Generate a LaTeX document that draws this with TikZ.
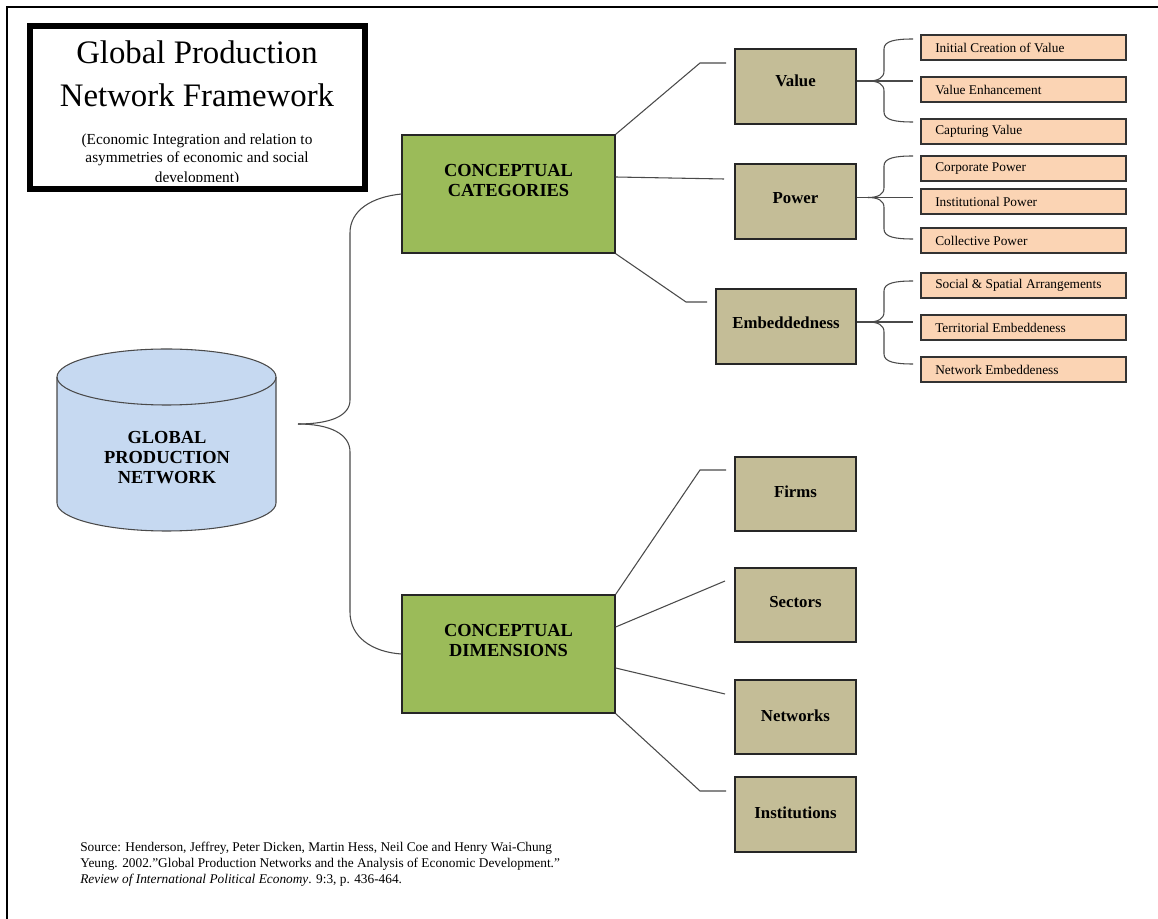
\documentclass[tikz,border=0pt]{standalone}
\usepackage{fontspec}
\setmainfont{Liberation Serif}
\usetikzlibrary{fit,shadows}
\definecolor{gpgreen}{HTML}{9BBB59}
\definecolor{gptan}{HTML}{C4BD97}
\definecolor{gporange}{HTML}{FBD4B4}
\definecolor{gpblue}{HTML}{C6D9F1}
\definecolor{gpline}{HTML}{4A4A4A}
\tikzset{
  conn/.style={draw=gpline, line width=0.8pt},
  greenbox/.style={draw=black!85, line width=1pt, fill=gpgreen, inner sep=0pt},
  tanbox/.style={draw=black!85, line width=1pt, fill=gptan, inner sep=0pt},
  orangebox/.style={draw=black!80, line width=0.9pt, fill=gporange, inner sep=0pt,
    drop shadow={shadow xshift=0.9pt, shadow yshift=-0.9pt, fill=black!70, opacity=0.8}},
  bigtext/.style={font=\fontsize{13.8}{14.6}\selectfont\bfseries, align=center, inner sep=0pt},
  tantext/.style={font=\fontsize{12.6}{14}\selectfont\bfseries, inner sep=0pt},
  otext/.style={font=\fontsize{10}{12}\selectfont, inner sep=0pt, anchor=west},
  titletext/.style={font=\fontsize{24.6}{30}\selectfont, inner sep=0pt},
  subtext/.style={font=\fontsize{11.5}{13.5}\selectfont, inner sep=0pt},
}
\newcommand\gpnbrace[5]{% #1 source node, #2 top y, #3 mid y, #4 bottom y, #5 name
  \coordinate (#5tip) at (868,#3);
  \coordinate (#5top) at (913,#2);
  \coordinate (#5mid) at (913,#3);
  \coordinate (#5bot) at (913,#4);
  \draw[conn] (#1.east |- #5tip) -- (#5mid);
  \draw[conn] (#5top) .. controls (895,#2) and (884,#2+2) .. (884,#2+10)
     -- (884,#3-10) .. controls (884,#3-3) and (878,#3) .. (#5tip);
  \draw[conn] (#5bot) .. controls (895,#4) and (884,#4-2) .. (884,#4-10)
     -- (884,#3+10) .. controls (884,#3+3) and (878,#3) .. (#5tip);
}
\begin{document}
\begin{tikzpicture}[x=0.75pt, y=-0.75pt]
\useasboundingbox (0,0) rectangle (1158,919);
\fill[white] (0,0) rectangle (1158,919);

% page frame
\draw[line width=1.5pt, black] (7,919) -- (7,7) -- (1158,7);

% title box
\begin{scope}
  \clip (30,26) rectangle (365,181.5);
  \node[subtext] (sub1) at (197,141) {(Economic Integration and relation to};
  \node[subtext] (sub2) at (197,159) {asymmetries of economic and social};
  \node[subtext] (sub3) at (197,179) {development)};
\end{scope}
\node[draw=black, line width=4.5pt, inner sep=0pt, fit={(30,26) (365,189)}] (titlebox) {};
\node[titletext] (title1) at (197,52) {Global Production};
\node[titletext] (title2) at (197,95) {Network Framework};

% cylinder
\fill[gpblue] (57,377) -- (57,503) arc[start angle=180, end angle=360, x radius=82.125pt, y radius=21pt]
   -- (276,377) arc[start angle=0, end angle=180, x radius=82.125pt, y radius=21pt] -- cycle;
\draw[gpline, line width=0.8pt] (57,377) -- (57,503) arc[start angle=180, end angle=360, x radius=82.125pt, y radius=21pt] -- (276,377);
\draw[gpline, line width=0.8pt] (166.5,377) ellipse[x radius=82.125pt, y radius=21pt];
\node[bigtext, font=\fontsize{13.8}{15}\selectfont\bfseries] (gpn) at (167,458) {GLOBAL\\PRODUCTION\\NETWORK};
\coordinate (gpntip) at (298,424);

% green boxes
\node[greenbox, fit={(402,135) (615,253)}] (catg) {};
\node[bigtext] (catgt) at (508.5,180.5) {CONCEPTUAL\\CATEGORIES};
\node[greenbox, fit={(402,595) (615,713)}] (dims) {};
\node[bigtext] (dimst) at (508.5,640.5) {CONCEPTUAL\\DIMENSIONS};

% big brace
\draw[conn] (catg.west) .. controls (372,197) and (350,210) .. (350,233) -- (350,400)
   .. controls (350,416) and (330,424) .. (gpntip);
\draw[conn] (dims.west) .. controls (372,652) and (350,637) .. (350,612) -- (350,452)
   .. controls (350,434) and (330,424) .. (gpntip);

% tan boxes
\node[tanbox, fit={(735,49) (856,124)}] (value) {};
\node[tantext] (valuet) at (795.5,81) {Value};
\node[tanbox, fit={(735,164) (856,239)}] (power) {};
\node[tantext] (powert) at (795.5,198) {Power};
\node[tanbox, fit={(716,289) (856,364)}] (embed) {};
\node[tantext] (embedt) at (786,323) {Embeddedness};
\node[tanbox, fit={(735,457) (856,531)}] (firms) {};
\node[tantext] (firmst) at (795.5,491.5) {Firms};
\node[tanbox, fit={(735,568) (856,642)}] (sectors) {};
\node[tantext] (sectorst) at (795.5,602.5) {Sectors};
\node[tanbox, fit={(735,680) (856,754)}] (networks) {};
\node[tantext] (networkst) at (795.5,715.5) {Networks};
\node[tanbox, fit={(735,777) (856,852)}] (instit) {};
\node[tantext] (institt) at (795.5,813) {Institutions};

% connectors from categories
\coordinate (cv1) at (700,63);
\coordinate (cv2) at (726,63);
\draw[conn] (catg.north east) -- (cv1) -- (cv2);
\coordinate (cp) at (724,179);
\draw[conn] (catg.east |- 0,177) -- (cp);
\coordinate (ce1) at (686,302);
\coordinate (ce2) at (707,302);
\draw[conn] (catg.south east) -- (ce1) -- (ce2);

% connectors from dimensions
\coordinate (df1) at (700,470);
\coordinate (df2) at (726,470);
\draw[conn] (dims.north east) -- (df1) -- (df2);
\coordinate (ds) at (725,581);
\draw[conn] (dims.east |- 0,627) -- (ds);
\coordinate (dn) at (725,694);
\draw[conn] (dims.east |- 0,668) -- (dn);
\coordinate (di1) at (700,791);
\coordinate (di2) at (726,791);
\draw[conn] (dims.south east) -- (di1) -- (di2);

% orange boxes
\node[orangebox, fit={(921,35) (1126,60)}] (o1) {};
\node[otext] (o1t) at (935,47.5) {Initial Creation of Value};
\node[orangebox, fit={(921,77) (1126,102)}] (o2) {};
\node[otext] (o2t) at (935,90) {Value Enhancement};
\node[orangebox, fit={(921,119) (1126,144)}] (o3) {};
\node[otext] (o3t) at (935,131.5) {Capturing Value};
\node[orangebox, fit={(921,156) (1126,181)}] (o4) {};
\node[otext] (o4t) at (935,168.5) {Corporate Power};
\node[orangebox, fit={(921,189) (1126,214)}] (o5) {};
\node[otext] (o5t) at (935,201.5) {Institutional Power};
\node[orangebox, fit={(921,228) (1126,253)}] (o6) {};
\node[otext] (o6t) at (935,240.5) {Collective Power};
\node[orangebox, fit={(921,273) (1126,298)}] (o7) {};
\node[otext] (o7t) at (935,285.5) {Social \& Spatial Arrangements};
\node[orangebox, fit={(921,315) (1126,340)}] (o8) {};
\node[otext] (o8t) at (935,327.5) {Territorial Embeddeness};
\node[orangebox, fit={(921,357) (1126,382)}] (o9) {};
\node[otext] (o9t) at (935,369.5) {Network Embeddeness};

% small braces
\gpnbrace{value}{39}{81}{122}{bv}
\gpnbrace{power}{156}{197.5}{239}{bp}
\gpnbrace{embed}{281}{322}{364}{be}

% source
\node[inner sep=0pt, anchor=west, align=left, font=\fontsize{10}{12}\selectfont] (source) at (80,864)
 {Source: Henderson, Jeffrey, Peter Dicken, Martin Hess, Neil Coe and Henry Wai-Chung\\
  Yeung. 2002.''Global Production Networks and the Analysis of Economic Development.''\\
  \textit{Review of International Political Economy}. 9:3, p. 436-464.};
\end{tikzpicture}
\end{document}
